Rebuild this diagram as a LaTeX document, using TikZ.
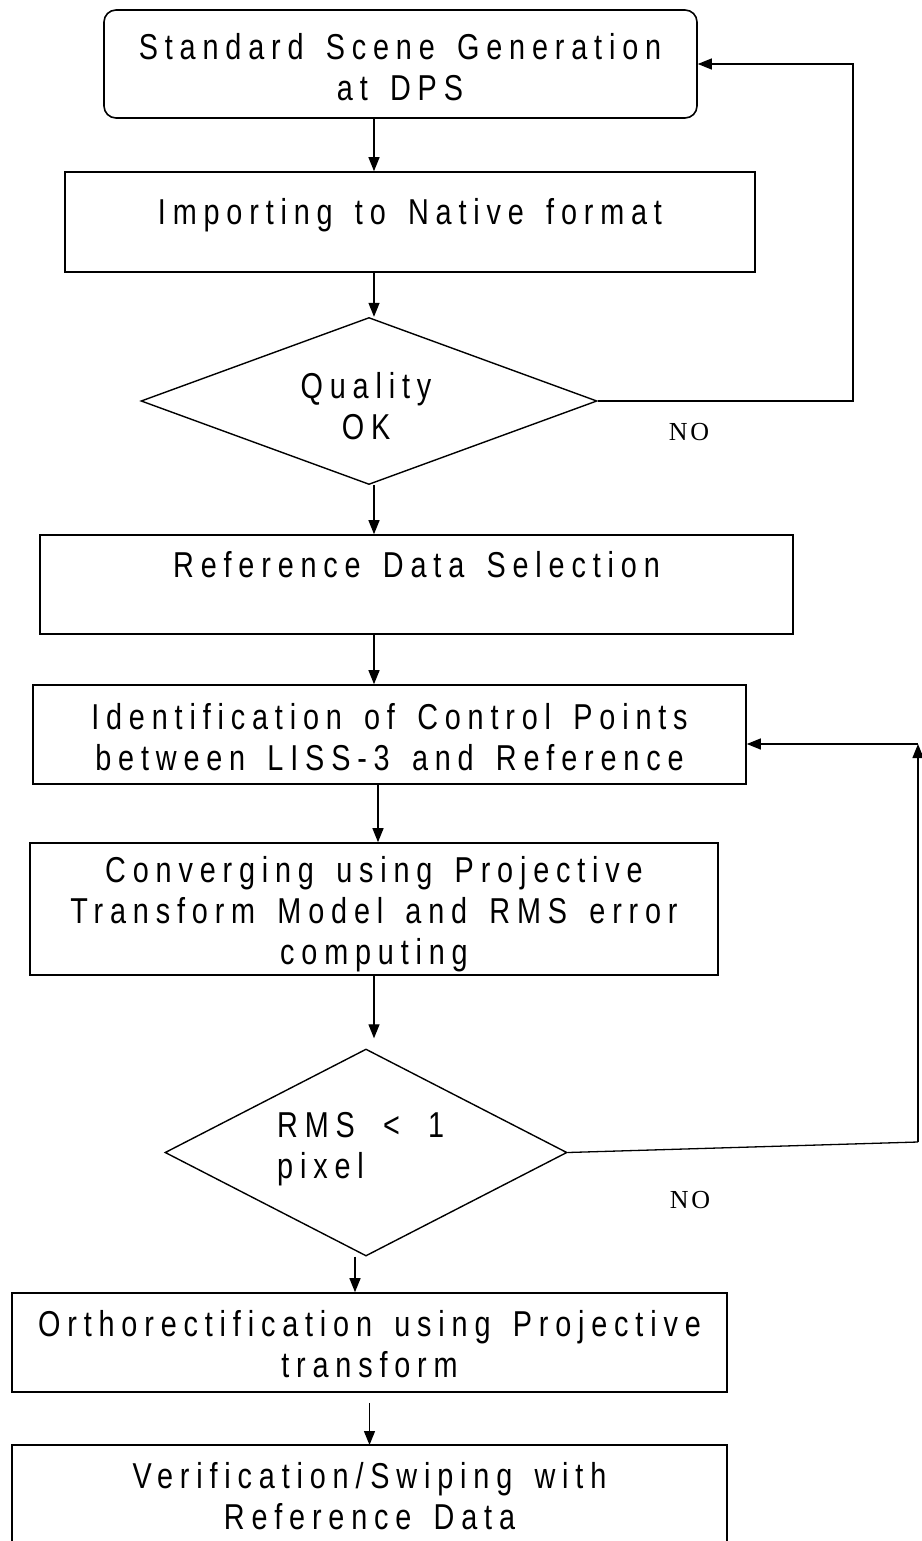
\documentclass[tikz,border=0pt]{standalone}
\usepackage{fontspec}
\usetikzlibrary{arrows.meta,shapes.geometric}
\newfontfamily\labfont[LetterSpace=19,FakeStretch=0.8,WordSpace=1.5]{Liberation Sans}
\newfontfamily\nofont[LetterSpace=10]{Liberation Serif}
\begin{document}
\begin{tikzpicture}[x=1pt,y=-1pt,
  box/.style={draw, line width=1.6pt, inner sep=0pt, minimum width=#1},
  dia/.style={draw, diamond, line width=1.4pt, inner sep=0pt},
  txt/.style={font=\labfont\fontsize{36}{41}\selectfont, align=center, inner sep=0pt},
  notxt/.style={font=\nofont\fontsize{26}{30}\selectfont, inner sep=0pt},
  conn/.style={line width=1.3pt},
  arr/.style={line width=1.3pt, -{Triangle[length=14pt,width=11pt]}}]
\fill[white] (0,0) rectangle (921,1541);
\useasboundingbox (0,0) rectangle (921,1541);

% boxes
\node[box=593pt, minimum height=108pt, rounded corners=12pt] (b1) at (400.5,64) {};
\node[box=690pt, minimum height=100pt] (b2) at (410,222) {};
\node[dia, minimum width=456pt, minimum height=167pt] (d1) at (369,401) {};
\node[box=753pt, minimum height=99pt] (b3) at (416.5,584.5) {};
\node[box=713pt, minimum height=99pt] (b4) at (389.5,734.5) {};
\node[box=688pt, minimum height=132pt] (b5) at (374,909) {};
\node[dia, minimum width=402pt, minimum height=207pt] (d2) at (366,1152.5) {};
\node[box=715pt, minimum height=99pt] (b6) at (369.5,1342.5) {};
\draw[line width=1.6pt] (12,1545) -- (12,1445) coordinate (b7nw) -- (727,1445) coordinate (b7ne) -- (727,1545);
\coordinate (b7top) at (369.5,1445);

% texts
\node[txt] (t1) at (400,67.5) {Standard Scene Generation\\at DPS};
\node[txt] (t2) at (410,215) {Importing to Native format};
\node[txt] (t3) at (366,406) {Quality\\OK};
\node[txt] (t4) at (416.5,565) {Reference Data Selection};
\node[txt] (t5) at (389.5,737.5) {Identification of Control Points\\between LISS-3 and Reference};
\node[txt] (t6) at (374,914) {Converging using Projective\\Transform Model and RMS error\\computing};
\node[txt, align=left, anchor=west] (t7) at (277,1149) {RMS \,<\, 1\\pixel};
\node[txt] (t8) at (369.5,1344) {Orthorectification using Projective\\transform};
\node[txt] (t9) at (369.5,1496) {Verification/Swiping with\\Reference Data};
\node[notxt] (no1) at (689,432) {NO};
\node[notxt] (no2) at (690,1200) {NO};

% vertical arrows
\coordinate (xa) at (374,0);
\coordinate (xb) at (378,0);
\coordinate (xc) at (355,0);
\coordinate (xd) at (369.5,0);
\draw[arr] (xa |- b1.south) -- (xa |- b2.north);
\draw[arr] (xa |- b2.south) -- (xa |- d1.north);
\draw[arr] (xa |- d1.south) -- (xa |- b3.north);
\draw[arr] (xa |- b3.south) -- (xa |- b4.north);
\draw[arr] (xb |- b4.south) -- (xb |- b5.north);
\draw[arr] (xa |- b5.south) -- ([yshift=10pt]xa |- d2.north);
\draw[arr] (xc |- d2.south) -- (xc |- b6.north);
\draw[arr] ([yshift=-10pt]xd |- b6.south) -- (xd |- b7top);

% NO loops
\coordinate (c1) at (853,401);
\draw[arr] (d1.east) -- (c1) |- (b1.east);
\coordinate (c2) at (918,1142);
\coordinate (c3) at (918,744);
\draw[conn] (d2.east) -- (c2);
\draw[arr] (c2) -- (c3);
\draw[arr] (c3) -- (c3 -| b4.east);
\end{tikzpicture}
\end{document}
